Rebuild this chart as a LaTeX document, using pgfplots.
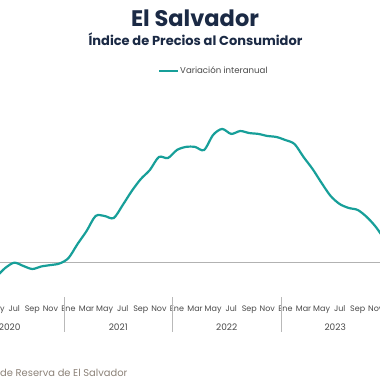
\documentclass[border=0pt]{standalone}
\usepackage{pgfplots}
\pgfplotsset{compat=1.18}
\usepackage{fontspec}
\setmainfont{Poppins}
\definecolor{tealc}{HTML}{179F99}
\definecolor{navy}{HTML}{1B2A45}
\definecolor{lbl}{HTML}{4A4A4A}
\definecolor{src}{HTML}{8C8278}
\begin{document}
\begin{tikzpicture}[x=1pt,y=1pt]
\path[use as bounding box, clip] (0,0) rectangle (380,380);
\fill[white] (0,0) rectangle (380,380);
\node[anchor=base, text=navy, font=\bfseries\fontsize{22.5}{26}\selectfont] at (195,353) {El Salvador};
\node[anchor=base, text=navy, font=\bfseries\fontsize{13}{15}\selectfont] at (195.5,334) {Índice de Precios al Consumidor};
\draw[tealc, line width=2.2pt] (159,309.3) -- (178,309.3);
\node[anchor=base west, inner sep=0pt, text=lbl, font=\fontsize{8.6}{10}\selectfont] at (180,306) {Variación interanual};
\node[anchor=base east, inner sep=0pt, text=src, font=\fontsize{9.9}{12}\selectfont] at (127.5,4) {Fuente: Banco Central de Reserva de El Salvador};
\begin{axis}[
  at={(0pt,83.8pt)}, anchor=south west,
  scale only axis, width=380pt, height=188.1pt,
  xmin=4.4248, xmax=46.46, ymin=-2, ymax=9,
  axis lines=none, clip=false,
  xtick=\empty, ytick=\empty,
]
\draw[gray!60, line width=0.8pt] (axis cs:-5,0) -- (axis cs:60,0);
\addplot[tealc, line width=2.2pt, smooth, tension=0.5] coordinates {
(0,0.10) (1,-0.05) (2,-0.30) (3,-0.70) (4,-0.82) (5,-0.35) (6,-0.04) (7,-0.23) (8,-0.41) (9,-0.26) (10,-0.18) (11,-0.09)
(12,0.23) (13,1.05) (14,1.81) (15,2.69) (16,2.69) (17,2.57) (18,3.33) (19,4.15) (20,4.85) (21,5.38) (22,6.14) (23,6.08)
(24,6.55) (25,6.73) (26,6.73) (27,6.55) (28,7.43) (29,7.78) (30,7.49) (31,7.66) (32,7.54) (33,7.49) (34,7.37) (35,7.31)
(36,7.13) (37,6.90) (38,6.14) (39,5.44) (40,4.62) (41,3.86) (42,3.39) (43,3.16) (44,3.04) (45,2.63) (46,2.05) (47,1.29)
};
\foreach \m/\t in {0/Ene,2/Mar,4/May,6/Jul,8/Sep,10/Nov,12/Ene,14/Mar,16/May,18/Jul,20/Sep,22/Nov,24/Ene,26/Mar,28/May,30/Jul,32/Sep,34/Nov,36/Ene,38/Mar,40/May,42/Jul,44/Sep,46/Nov}{
  \edef\tmp{\noexpand\node[anchor=base, inner sep=0pt, text=lbl, font=\noexpand\fontsize{8}{10}\noexpand\selectfont] at (axis cs:\m,-2) [yshift=-14.8pt] {\t};}\tmp
}
\foreach \m/\t in {5.5/2020,17.5/2021,29.5/2022,41.5/2023}{
  \edef\tmp{\noexpand\node[anchor=base, inner sep=0pt, text=lbl, font=\noexpand\fontsize{9}{11}\noexpand\selectfont] at (axis cs:\m,-2) [yshift=-33.8pt] {\t};}\tmp
}
\foreach \m in {-0.5,11.5,23.5,35.5,47.5}{
  \edef\tmp{\noexpand\draw[gray!55, line width=0.7pt] (axis cs:\m,-2.05) -- (axis cs:\m,-4.1);}\tmp
}
\end{axis}
\end{tikzpicture}
\end{document}
